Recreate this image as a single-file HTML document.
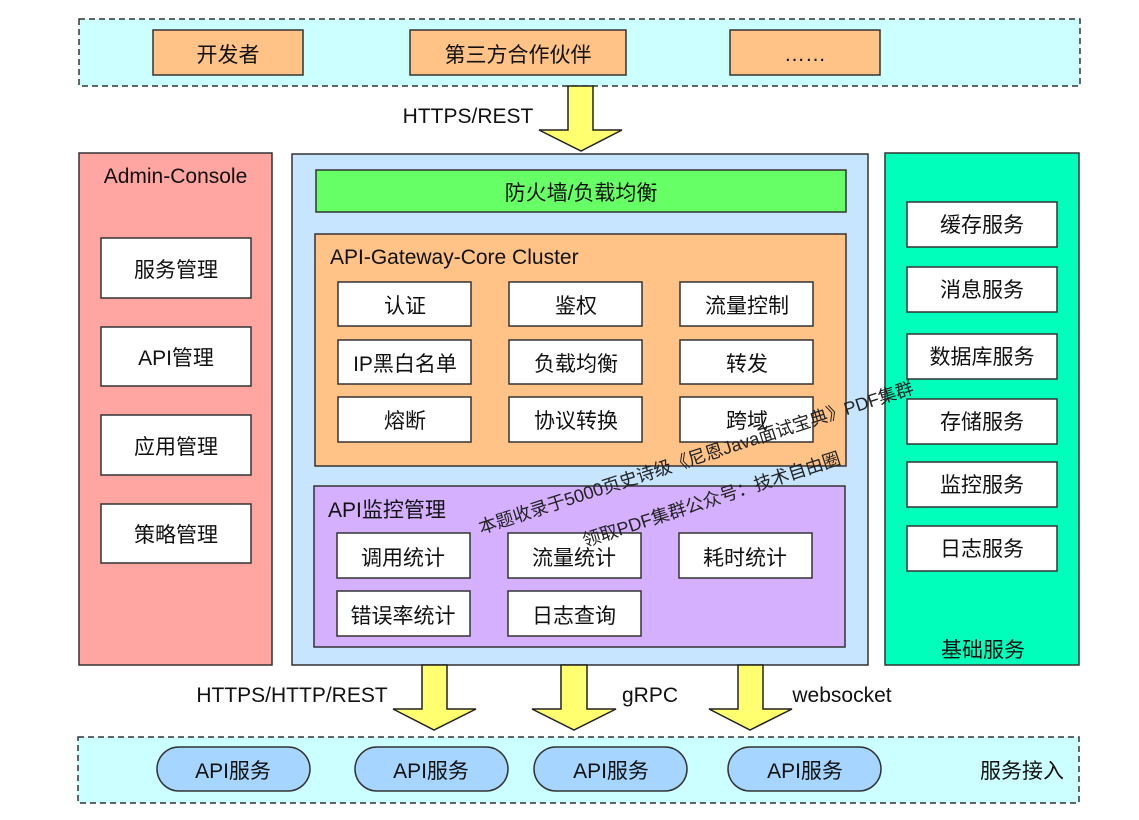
<!DOCTYPE html>
<html><head><meta charset="utf-8"><style>
html,body{margin:0;padding:0;background:#fff}
svg{display:block}
text{font-family:"Liberation Sans","Noto Sans CJK SC",sans-serif;font-size:21px;fill:#111;text-anchor:middle}
.l{text-anchor:start}
rect,path{stroke:#333;stroke-width:1.5}
.w{fill:#fff}.o{fill:#ffc388}.y{fill:#ffff70;stroke:#222}
.m{font-size:18px;text-anchor:start;fill:#222}
</style></head><body>
<svg width="1139" height="820" viewBox="0 0 1139 820" xmlns="http://www.w3.org/2000/svg">
<rect x="79" y="19" width="1001" height="67" fill="#ccffff" stroke-dasharray="6 4"/>
<rect class="o" x="153" y="30" width="150" height="45"/><text x="228" y="62">开发者</text>
<rect class="o" x="410" y="30" width="216" height="45"/><text x="518" y="62">第三方合作伙伴</text>
<rect class="o" x="730" y="30" width="150" height="45"/><text x="805" y="61">……</text>
<path class="y" d="M568 86H593V130H622L581 151L539 130H568Z"/>
<text x="468" y="123">HTTPS/REST</text>

<rect x="79" y="153" width="193" height="512" fill="#ffa6a2"/>
<text x="175.500" y="183">Admin-Console</text>
<rect class="w" x="101" y="238" width="150" height="60"/><text x="176" y="277">服务管理</text>
<rect class="w" x="101" y="327" width="150" height="59"/><text x="176" y="365">API管理</text>
<rect class="w" x="101" y="415" width="150" height="60"/><text x="176" y="454">应用管理</text>
<rect class="w" x="101" y="504" width="150" height="59"/><text x="176" y="542">策略管理</text>

<rect x="292" y="154" width="576" height="511" fill="#c7e5ff"/>
<rect x="316" y="170" width="530" height="42" fill="#66ff66"/><text x="581" y="200">防火墙/负载均衡</text>
<rect class="o" x="315" y="234" width="531" height="232"/>
<text class="l" x="330" y="264">API-Gateway-Core Cluster</text>
<rect class="w" x="338" y="282" width="133" height="44"/><text x="405" y="313">认证</text>
<rect class="w" x="509" y="282" width="133" height="44"/><text x="576" y="313">鉴权</text>
<rect class="w" x="680" y="282" width="133" height="44"/><text x="747" y="313">流量控制</text>
<rect class="w" x="338" y="340" width="133" height="44"/><text x="405" y="371">IP黑白名单</text>
<rect class="w" x="509" y="340" width="133" height="44"/><text x="576" y="371">负载均衡</text>
<rect class="w" x="680" y="340" width="133" height="44"/><text x="747" y="371">转发</text>
<rect class="w" x="338" y="397" width="133" height="45"/><text x="405" y="428">熔断</text>
<rect class="w" x="509" y="397" width="133" height="45"/><text x="576" y="428">协议转换</text>
<rect class="w" x="680" y="397" width="133" height="45"/><text x="747" y="428">跨域</text>

<rect x="314" y="486" width="531" height="161" fill="#d5b0ff"/>
<text class="l" x="328" y="517">API监控管理</text>
<rect class="w" x="337" y="533" width="133" height="45"/><text x="403" y="565">调用统计</text>
<rect class="w" x="508" y="533" width="133" height="45"/><text x="574" y="565">流量统计</text>
<rect class="w" x="679" y="533" width="133" height="45"/><text x="745" y="565">耗时统计</text>
<rect class="w" x="337" y="591" width="133" height="45"/><text x="403" y="623">错误率统计</text>
<rect class="w" x="508" y="591" width="133" height="45"/><text x="574" y="623">日志查询</text>

<rect x="885" y="153" width="194" height="512" fill="#00ffbb"/>
<rect class="w" x="907" y="202" width="150" height="45"/><text x="982" y="232">缓存服务</text>
<rect class="w" x="907" y="267" width="150" height="45"/><text x="982" y="297">消息服务</text>
<rect class="w" x="907" y="334" width="150" height="45"/><text x="982" y="364">数据库服务</text>
<rect class="w" x="907" y="399" width="150" height="45"/><text x="982" y="429">存储服务</text>
<rect class="w" x="907" y="462" width="150" height="45"/><text x="982" y="492">监控服务</text>
<rect class="w" x="907" y="526" width="150" height="45"/><text x="982" y="556">日志服务</text>
<text x="983" y="657">基础服务</text>

<path class="y" d="M422 665H447V709H476L434 730L393 709H422Z"/>
<path class="y" d="M561 665H587V709H616L574 730L532 709H561Z"/>
<path class="y" d="M738 665H763V709H792L750 730L709 709H738Z"/>
<text x="292" y="702">HTTPS/HTTP/REST</text>
<text x="650" y="702">gRPC</text>
<text x="842" y="702">websocket</text>

<rect x="78" y="737" width="1001" height="66" fill="#ccffff" stroke-dasharray="6 4"/>
<rect x="157" y="747" width="153" height="44" rx="22" fill="#a6d5ff"/><text x="233" y="778">API服务</text>
<rect x="355" y="747" width="153" height="44" rx="22" fill="#a6d5ff"/><text x="431" y="778">API服务</text>
<rect x="534" y="747" width="153" height="44" rx="22" fill="#a6d5ff"/><text x="611" y="778">API服务</text>
<rect x="728" y="747" width="153" height="44" rx="22" fill="#a6d5ff"/><text x="805" y="778">API服务</text>
<text x="1022" y="778">服务接入</text>

<text class="m" transform="translate(481 534) rotate(-18)">本题收录于5000页史诗级《尼恩Java面试宝典》PDF集群</text>
<text class="m" transform="translate(585 547) rotate(-18)">领取PDF集群公众号：技术自由圈</text>
</svg>
</body></html>
